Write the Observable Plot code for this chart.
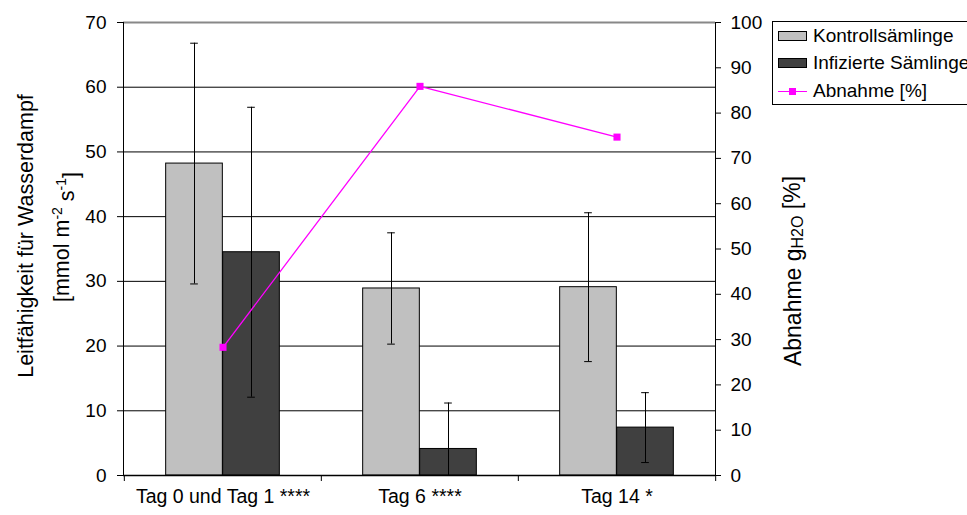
<!DOCTYPE html>
<html>
<head>
<meta charset="utf-8">
<script src="https://cdn.jsdelivr.net/npm/d3@7"></script>
<script src="https://cdn.jsdelivr.net/npm/@observablehq/plot@0.6"></script>
<style>
  body { margin: 0; background: #fff; font-family: "Liberation Sans", Arial, sans-serif; }
  #wrap { position: relative; width: 967px; height: 515px; overflow: hidden; background: #fff; }
  #legend { position: absolute; left: 772px; top: 21px; width: 214px; height: 82px; border: 1px solid #000; background: #fff; font-size: 19px; color: #000; }
  #legend .row { position: absolute; left: 5px; height: 20px; display: flex; align-items: center; white-space: nowrap; }
  #legend .sw { width: 27px; height: 8px; border: 1px solid #000; margin-right: 6px; box-sizing: content-box; }
  #legend .ln { position: relative; width: 29px; height: 8px; margin-right: 6px; }
  #legend .ln::before { content: ""; position: absolute; left: 0; right: 0; top: 3.5px; height: 1px; background: #ff00ff; }
  #legend .ln::after { content: ""; position: absolute; left: 11px; top: 0.5px; width: 7px; height: 7px; background: #ff00ff; }
</style>
</head>
<body>
<div id="wrap"></div>
<script>
// ---- data ----
const days = ["Tag 0 und Tag 1 ****", "Tag 6 ****", "Tag 14 *"];
const control = [48.2, 28.9, 29.1];
const controlErr = [18.6, 8.6, 11.5];
const infected = [34.5, 4.1, 7.4];
const infectedErr = [22.4, 7.1, 5.4];
const abnahme = [28.3, 85.9, 74.7];
const leftTicks = [0, 10, 20, 30, 40, 50, 60, 70];
const rightTicks = [0, 10, 20, 30, 40, 50, 60, 70, 80, 90, 100];
const seriesNames = ["Kontrollsämlinge", "Infizierte Sämlinge", "Abnahme [%]"];
const yTitle = "Leitfähigkeit für Wasserdampf";
const yTitle2 = "[mmol m-2 s-1]";
const y2Title = "Abnahme gH2O [%]";

// ---- layout ----
const W = 967, H = 515, mL = 123, mR = 252, mT = 22, mB = 40;
const band = (W - mL - mR) / days.length;
const barW = 57, half = barW / 2;
const barInset = (band - barW) / 2;
const capInset = (band - 8) / 2;
const pctToY = d3.scaleLinear([0, 100], [0, 70]);

const rows = days.map((day, i) => ({
  day,
  control: control[i], controlErr: controlErr[i],
  infected: infected[i], infectedErr: infectedErr[i],
  abnahme: abnahme[i]
}));

const font = "Liberation Sans, Arial, sans-serif";

const chart = Plot.plot({
  width: W, height: H,
  marginLeft: mL, marginRight: mR, marginTop: mT, marginBottom: mB,
  style: { fontFamily: font, fontSize: "19px", background: "white", color: "black", overflow: "visible" },
  x: { type: "band", domain: days, padding: 0 },
  y: { domain: [0, 70] },
  marks: [
    Plot.gridY(leftTicks.filter(t => t > 0 && t < 70), { stroke: "#000", strokeOpacity: 1, strokeWidth: 1 }),
    Plot.ruleY([70], { stroke: "#888", strokeWidth: 2 }),
    // bars
    Plot.barY(rows, { x: "day", y: "control", dx: -half, insetLeft: barInset, insetRight: barInset, fill: "#C0C0C0", stroke: "#000", strokeWidth: 1 }),
    Plot.barY(rows, { x: "day", y: "infected", dx: half, insetLeft: barInset, insetRight: barInset, fill: "#404040", stroke: "#000", strokeWidth: 1 }),
    // error bars
    Plot.ruleX(rows, { x: "day", y1: d => d.control - d.controlErr, y2: d => d.control + d.controlErr, dx: -half, stroke: "#000", strokeWidth: 1, clip: true }),
    Plot.tickY(rows, { x: "day", y: d => d.control + d.controlErr, dx: -half, insetLeft: capInset, insetRight: capInset, stroke: "#000", clip: true }),
    Plot.tickY(rows, { x: "day", y: d => d.control - d.controlErr, dx: -half, insetLeft: capInset, insetRight: capInset, stroke: "#000", clip: true }),
    Plot.ruleX(rows, { x: "day", y1: d => d.infected - d.infectedErr, y2: d => d.infected + d.infectedErr, dx: half, stroke: "#000", strokeWidth: 1, clip: true }),
    Plot.tickY(rows, { x: "day", y: d => d.infected + d.infectedErr, dx: half, insetLeft: capInset, insetRight: capInset, stroke: "#000", clip: true }),
    Plot.tickY(rows, { x: "day", y: d => d.infected - d.infectedErr, dx: half, insetLeft: capInset, insetRight: capInset, stroke: "#000", clip: true }),
    // baseline and category boundary ticks
    Plot.ruleY([0], { stroke: "#000", strokeWidth: 1.5 }),
    Plot.ruleX(days, { x: d => d, dx: -band / 2, y1: 0, y2: 0, insetBottom: -6, stroke: "#000" }),
    Plot.ruleX(days.slice(-1), { x: d => d, dx: band / 2, y1: 0, y2: 0, insetBottom: -6, stroke: "#000" }),
    // axes
    Plot.axisY({ ticks: leftTicks, tickSize: 6, tickPadding: 11, label: null, fontSize: 19 }),
    Plot.axisY({ anchor: "right", ticks: rightTicks.map(v => pctToY(v)), tickFormat: d => Math.round(pctToY.invert(d)), tickSize: 5, tickPadding: 10, label: null, fontSize: 19 }),
    Plot.axisX({ tickSize: 0, tickPadding: 14, label: null, fontSize: 19.5 }),
    Plot.frame({ anchor: "left", stroke: "#000" }),
    Plot.frame({ anchor: "right", stroke: "#000" }),
    // percentage line on the secondary axis
    Plot.line(rows, { x: "day", y: d => pctToY(d.abnahme), stroke: "#FF00FF", strokeWidth: 1.3 }),
    Plot.dot(rows, { x: "day", y: d => pctToY(d.abnahme), symbol: "square", r: 4, fill: "#FF00FF", stroke: "none" }),
    // axis titles
    Plot.text([yTitle], { text: d => d, frameAnchor: "left", textAnchor: "middle", rotate: -90, dx: -97, dy: -13, fontSize: 21.5, fill: "#000" }),
    Plot.text([yTitle2], { text: d => d, frameAnchor: "left", textAnchor: "middle", rotate: -90, dx: -61, dy: -12, fontSize: 21.5, fill: "#000" }),
    Plot.text([y2Title], { text: d => d, frameAnchor: "right", textAnchor: "middle", rotate: -90, dx: 78, dy: 22, fontSize: 23, fill: "#000" })
  ]
});

// rich text for sub/superscripts
const svg = d3.select(chart);
function rich(str, parts) {
  svg.selectAll("text").filter(function () { return this.textContent === str; }).each(function () {
    const t = d3.select(this);
    t.text(null);
    parts.forEach(p => {
      const s = t.append("tspan").text(p.t);
      if (p.dy) s.attr("dy", p.dy);
      if (p.fs) s.attr("font-size", p.fs);
    });
  });
}
rich(yTitle2, [
  { t: "[mmol m" },
  { t: "-2", dy: "-0.55em", fs: 14 },
  { t: " s", dy: "0.55em" },
  { t: "-1", dy: "-0.55em", fs: 14 },
  { t: "]", dy: "0.55em" }
]);
rich(y2Title, [
  { t: "Abnahme g" },
  { t: "H2O", dy: "0.12em", fs: 16 },
  { t: " [%]", dy: "-0.12em" }
]);

const wrap = document.getElementById("wrap");
wrap.appendChild(chart);

// legend (HTML, placed to the right of the plot like the reference)
const legend = document.createElement("div");
legend.id = "legend";
const swatches = [
  { cls: "sw", bg: "#C0C0C0" },
  { cls: "sw", bg: "#404040" },
  { cls: "ln", bg: null }
];
const rowTops = [4, 31, 59];
seriesNames.forEach((name, i) => {
  const row = document.createElement("div");
  row.className = "row";
  row.style.top = rowTops[i] + "px";
  const sw = document.createElement("span");
  sw.className = swatches[i].cls;
  if (swatches[i].bg) sw.style.background = swatches[i].bg;
  const label = document.createElement("span");
  label.textContent = name;
  row.appendChild(sw);
  row.appendChild(label);
  legend.appendChild(row);
});
wrap.appendChild(legend);
</script>
</body>
</html>
